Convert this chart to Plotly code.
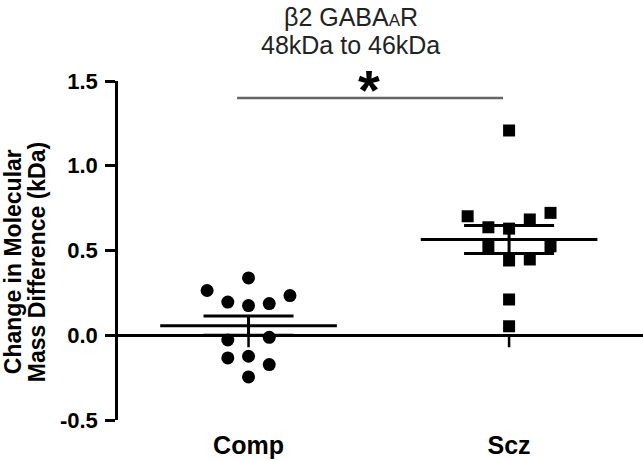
import numpy as np
import plotly.graph_objects as go

# ---------------- data ----------------
groups = ["Comp", "Scz"]
comp_values = [0.338, 0.264, 0.234, 0.196, 0.175, 0.187, -0.028, -0.012, -0.134, -0.124, -0.173, -0.246]
comp_slots = [0, -2, 2, -1, 0, 1, -1, 1, -1, 0, 1, 0]
scz_values = [1.208, 0.702, 0.637, 0.629, 0.683, 0.722, 0.525, 0.525, 0.441, 0.447, 0.211, 0.053]
scz_slots = [0, -2, -1, 0, 1, 2, -1, 2, 0, 1, 0, 0]
y_tick_vals = [-0.5, 0.0, 0.5, 1.0, 1.5]
y_tick_text = ["-0.5", "0.0", "0.5", "1.0", "1.5"]
title_line1 = "β2 GABA<span style='font-size:17px'>A</span>R"
title_line2 = "48kDa to 46kDa"
ytitle_line1 = "Change in Molecular"
ytitle_line2 = "Mass Difference (kDa)"
sig_text = "*"

FONT = "Liberation Sans, Arial, Helvetica, sans-serif"
SLOT_W = 0.0795
MEAN_HALF = 0.339

series = [(comp_values, comp_slots, "circle", 13), (scz_values, scz_slots, "square", 12)]

fig = go.Figure()

for gi, (vals, slots, sym, sz) in enumerate(series):
    v = np.array(vals)
    m = v.mean()
    sem = v.std(ddof=1) / np.sqrt(len(v))
    # mean line
    fig.add_trace(go.Scatter(x=[gi - MEAN_HALF, gi + MEAN_HALF], y=[m, m], mode="lines",
                             line=dict(color="black", width=3), showlegend=False, hoverinfo="skip"))
    # SEM
    fig.add_trace(go.Scatter(x=[gi], y=[m], mode="markers",
                             marker=dict(size=1, color="rgba(0,0,0,0)"),
                             error_y=dict(type="data", array=[sem], visible=True, color="black",
                                          thickness=3, width=45),
                             showlegend=False, hoverinfo="skip"))
    # points
    fig.add_trace(go.Scatter(x=[gi + s * SLOT_W for s in slots], y=vals, mode="markers",
                             marker=dict(symbol=sym, size=sz, color="black", line=dict(width=0)),
                             showlegend=False))

# x tick marks hanging below the zero line
shapes = []
for gi in range(len(groups)):
    shapes.append(dict(type="line", xref="x", yref="y", x0=gi, x1=gi,
                       ysizemode="pixel", yanchor=0, y0=0, y1=-12,
                       line=dict(color="black", width=2.5)))
# significance bar
shapes.append(dict(type="line", xref="x", yref="y", x0=-0.044, x1=0.977, y0=1.40, y1=1.40,
                   line=dict(color="#666666", width=2.5)))

PLOT_H = 339.3
annotations = [
    dict(text=title_line1, xref="paper", yref="paper", x=0.4438, y=1, yanchor="middle",
         yshift=81 - 17, showarrow=False, font=dict(family=FONT, size=25, color="#222222")),
    dict(text=title_line2, xref="paper", yref="paper", x=0.4438, y=1, yanchor="middle",
         yshift=81 - 45, showarrow=False, font=dict(family=FONT, size=25, color="#222222")),
    dict(text=sig_text, xref="x", yref="paper", x=0.4626, y=(420 - 77) / PLOT_H, yanchor="middle",
         yshift=-12, showarrow=False, font=dict(family=FONT, size=56, color="black", weight="bold")),
    dict(text=ytitle_line1, xref="paper", yref="paper", x=(13 - 118) / 525, y=(420 - 262) / PLOT_H,
         xanchor="center", yanchor="middle", textangle=-90, showarrow=False,
         font=dict(family=FONT, size=23, color="black", weight="bold")),
    dict(text=ytitle_line2, xref="paper", yref="paper", x=(37 - 118) / 525, y=(420 - 262) / PLOT_H,
         xanchor="center", yanchor="middle", textangle=-90, showarrow=False,
         font=dict(family=FONT, size=23, color="black", weight="bold")),
]

fig.update_layout(
    width=643, height=461,
    margin=dict(l=118, r=0, t=81, b=41),
    paper_bgcolor="white", plot_bgcolor="white",
    font=dict(family=FONT, color="black"),
    shapes=shapes, annotations=annotations,
    xaxis=dict(range=[-0.501, 1.514], tickvals=list(range(len(groups))), ticktext=groups,
               showline=False, ticks="", showgrid=False, zeroline=False,
               tickfont=dict(family=FONT, size=25, color="black", weight="bold"),
               ticklabelstandoff=8),
    yaxis=dict(range=[-0.5, 1.5], tickvals=y_tick_vals, ticktext=y_tick_text,
               showline=True, linecolor="black", linewidth=2.5,
               ticks="outside", ticklen=10, tickwidth=2.5, tickcolor="black",
               showgrid=False, zeroline=True, zerolinecolor="black", zerolinewidth=2.5,
               tickfont=dict(family=FONT, size=22, color="black", weight="bold"),
               ticklabelstandoff=3),
)

fig.write_html("out.html", config={"displayModeBar": False},
               post_script="document.body.style.margin='0';document.body.style.overflow='hidden';")
